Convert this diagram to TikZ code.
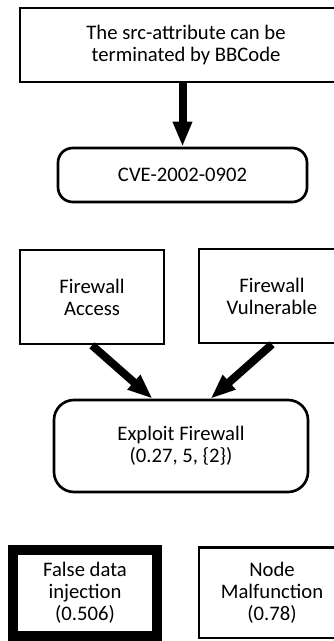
\documentclass[tikz,border=0pt]{standalone}
\usepackage{fontspec}
\setmainfont{Carlito}
\usepackage{tikz}
\usetikzlibrary{shapes.geometric, arrows.meta}
\tikzstyle{thickarrow} = [line width=6pt,-{Triangle[length=18.75pt,width=13.5pt]}]
\tikzstyle{box} = [draw, rectangle, line width=2pt, inner sep=0pt]
\tikzstyle{rbox} = [box, rounded corners=11pt]

\begin{document}
\begin{tikzpicture}[x=0.75pt, y=-0.75pt, every node/.style={font=\fontsize{15.5}{16.5}\selectfont, align=center}]
        \useasboundingbox (0,0) rectangle (334,641);
        \clip (0,0) rectangle (334,641);
        % Node positions
        \node[box, minimum width=249pt, minimum height=55.5pt] (src) at (186,45) {The src-attribute can be\\terminated by BBCode};
        \node[rbox, minimum width=186.75pt, minimum height=40.5pt] (cve) at (182.5,175) {CVE-2002-0902};
        \node[box, minimum width=108pt, minimum height=70.5pt] (fwa) at (92,297) {Firewall\\Access};
        \node[box, minimum width=109.5pt, minimum height=70.5pt] (fwv) at (272,296) {Firewall\\Vulnerable};
        \node[rbox, rounded corners=15pt, minimum width=190.5pt, minimum height=69pt] (exp) at (181,446) {Exploit Firewall\\(0.27, 5, \{2\})};
        \node[box, line width=7.5pt, minimum width=108pt, minimum height=65pt] (fdi) at (85,593) {False data\\injection\\(0.506)};
        \node[box, minimum width=109.5pt, minimum height=68pt] (nm) at (272,592.5) {Node\\Malfunction\\(0.78)};

        \draw[thickarrow] (src.south -| cve.north) -- (cve.north);
        \draw[thickarrow] (fwa.south) -- (exp.121);
        \draw[thickarrow] (fwv.south) -- (exp.58);
      \end{tikzpicture}
\end{document}
